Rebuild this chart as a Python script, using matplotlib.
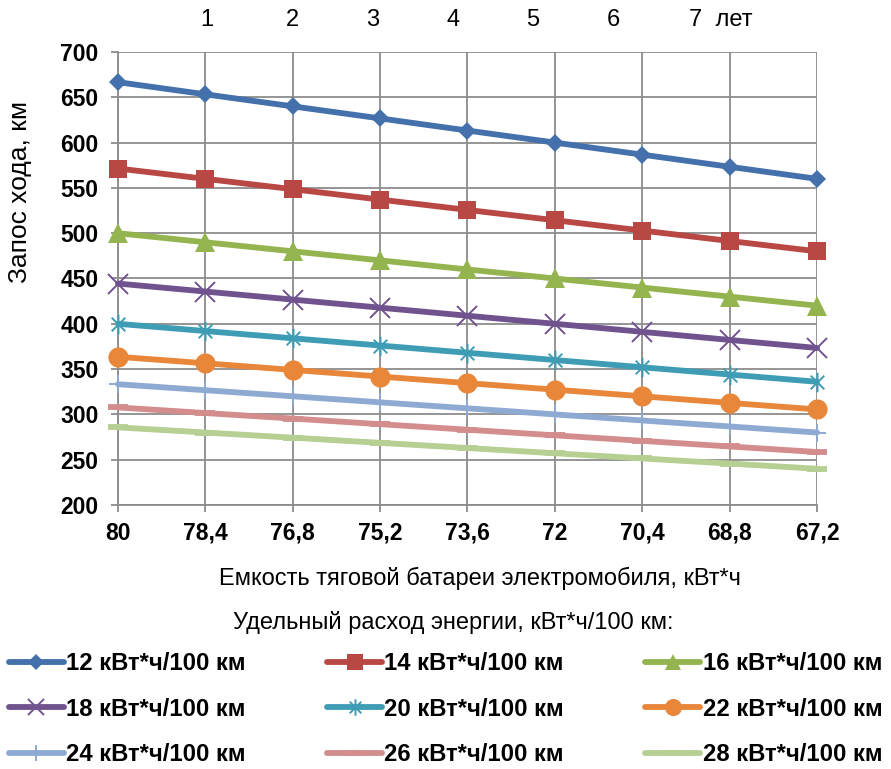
import matplotlib
matplotlib.use("Agg")
import matplotlib.pyplot as plt
from matplotlib import font_manager
from matplotlib.path import Path
import numpy as np

plt.rcParams['font.family'] = ['Liberation Sans', 'DejaVu Sans']

# Battery capacity, kWh (category axis, descending)
capacity = ["80", "78,4", "76,8", "75,2", "73,6", "72", "70,4", "68,8", "67,2"]
years = ["1", "2", "3", "4", "5", "6", "7  лет"]

# Driving range, km, for each specific consumption
range_12 = [666.7, 653.3, 640.0, 626.7, 613.3, 600.0, 586.7, 573.3, 560.0]
range_14 = [571.4, 560.0, 548.6, 537.1, 525.7, 514.3, 502.9, 491.4, 480.0]
range_16 = [500.0, 490.0, 480.0, 470.0, 460.0, 450.0, 440.0, 430.0, 420.0]
range_18 = [444.4, 435.6, 426.7, 417.8, 408.9, 400.0, 391.1, 382.2, 373.3]
range_20 = [400.0, 392.0, 384.0, 376.0, 368.0, 360.0, 352.0, 344.0, 336.0]
range_22 = [363.6, 356.4, 349.1, 341.8, 334.5, 327.3, 320.0, 312.7, 305.5]
range_24 = [333.3, 326.7, 320.0, 313.3, 306.7, 300.0, 293.3, 286.7, 280.0]
range_26 = [307.7, 301.5, 295.4, 289.2, 283.1, 276.9, 270.8, 264.6, 258.5]
range_28 = [285.7, 280.0, 274.3, 268.6, 262.9, 257.1, 251.4, 245.7, 240.0]

series_labels = ["12 кВт*ч/100 км", "14 кВт*ч/100 км", "16 кВт*ч/100 км",
                 "18 кВт*ч/100 км", "20 кВт*ч/100 км", "22 кВт*ч/100 км",
                 "24 кВт*ч/100 км", "26 кВт*ч/100 км", "28 кВт*ч/100 км"]

# asterisk marker: vertical bar plus a diagonal cross
star = Path([(0, -1), (0, 1), (-0.7, -0.7), (0.7, 0.7), (-0.7, 0.7), (0.7, -0.7)],
            [Path.MOVETO, Path.LINETO, Path.MOVETO, Path.LINETO, Path.MOVETO, Path.LINETO])

styles = [
    dict(color="#4471AB", marker="D", ms=9.5, mew=0),
    dict(color="#B94744", marker="s", ms=13, mew=0),
    dict(color="#93B44F", marker="^", ms=14, mew=0),
    dict(color="#70528F", marker="x", ms=14, mew=1.4),
    dict(color="#3F9CB5", marker=star, ms=14, mew=1.4),
    dict(color="#E8863A", marker="o", ms=14.5, mew=0),
    dict(color="#8EA9D2", marker="+", ms=13, mew=1.4),
    dict(color="#D28D8C", marker="_", ms=14.5, mew=4.2),
    dict(color="#B6CF93", marker="_", ms=14.5, mew=4.2),
]

data = [range_12, range_14, range_16, range_18, range_20, range_22,
        range_24, range_26, range_28]

fig = plt.figure(figsize=(8.91, 7.69), dpi=100)
ax = fig.add_axes([118 / 891, 1 - 505 / 769, (817 - 118) / 891, (505 - 52) / 769])

x = np.arange(len(capacity))
handles = []
for vals, st, lab in zip(data, styles, series_labels):
    h, = ax.plot(x, vals, color=st["color"], lw=4.2, marker=st["marker"],
                 ms=st["ms"], mew=st["mew"], mec=st["color"], mfc=st["color"],
                 solid_capstyle="round", label=lab, clip_on=False, zorder=3)
    handles.append(h)

ax.set_xlim(0, len(capacity) - 1)
ax.set_ylim(200, 700)
ax.set_yticks(np.arange(200, 701, 50))
ax.set_xticks(x)
ax.set_xticklabels(capacity)
for lbl in ax.get_xticklabels() + ax.get_yticklabels():
    lbl.set_fontweight("bold")
    lbl.set_fontsize(16.5)

ax.grid(True, color="#8C8C8C", lw=1.3, zorder=0)
for s in ["top", "right"]:
    ax.spines[s].set_visible(False)
for s in ["left", "bottom"]:
    ax.spines[s].set_color("#8C8C8C")
    ax.spines[s].set_linewidth(1.3)
ax.tick_params(axis="both", direction="out", length=5, width=1.3, color="#8C8C8C")
ax.tick_params(axis="y", pad=9)
ax.tick_params(axis="x", pad=7)

fig.text(20 / 891, 1 - 192 / 769, "Запос хода, км", rotation=90, fontsize=19,
         ha="center", va="center")
fig.text(480 / 891, 1 - 578 / 769, "Емкость тяговой батареи электромобиля, кВт*ч",
         fontsize=17, ha="center", va="center")
fig.text(453 / 891, 1 - 622 / 769, "Удельный расход энергии, кВт*ч/100 км:",
         fontsize=17, ha="center", va="center")

# condensed face for the year scale when available
try:
    font_manager.findfont("Liberation Sans Narrow", fallback_to_default=False)
    year_family = "Liberation Sans Narrow"
except Exception:
    year_family = "Liberation Sans"

year_x = [207, 292, 373, 453, 533, 613, 689]
for yx, yl in zip(year_x, years):
    fig.text(yx / 891, 1 - 20 / 769, yl, fontsize=17,
             ha="left" if "лет" in yl else "center", va="center",
             family=[year_family, "DejaVu Sans"])

# legend: row-wise ordering in three columns
order = [0, 3, 6, 1, 4, 7, 2, 5, 8]
leg = fig.legend([handles[i] for i in order], [series_labels[i] for i in order],
                 ncol=3, loc="upper left", bbox_to_anchor=(9 / 891, 1 - 652 / 769),
                 frameon=False, handlelength=2.3, handletextpad=0.1,
                 columnspacing=3.4, labelspacing=0.95, borderaxespad=0,
                 borderpad=0, markerscale=0.85, prop=dict(weight="bold", size=17.2))

fig.savefig("out.png", dpi=100)
